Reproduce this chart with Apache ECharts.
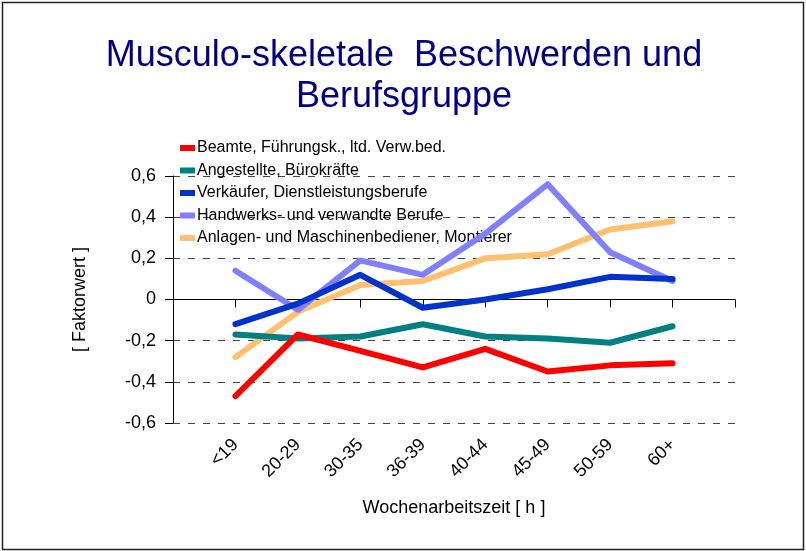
<!DOCTYPE html>
<html>
<head>
<meta charset="utf-8">
<script src="https://cdn.jsdelivr.net/npm/echarts@6/dist/echarts.min.js"></script>
<style>
  html, body { margin: 0; padding: 0; background: #fff; }
  #chart { width: 806px; height: 551px; }
</style>
</head>
<body>
<div id="chart"></div>
<script>
// Wochenarbeitszeit-Klassen
var ageGroups = ['<19', '20-29', '30-35', '36-39', '40-44', '45-49', '50-59', '60+'];

var seriesNames = [
  'Beamte, Führungsk., ltd. Verw.bed.',
  'Angestellte, Bürokräfte',
  'Verkäufer, Dienstleistungsberufe',
  'Handwerks- und verwandte Berufe',
  'Anlagen- und Maschinenbediener, Montierer'
];
var seriesColors = ['#ff0000', '#008080', '#0033cc', '#8080ff', '#ffc170'];

var beamte      = [-0.47, -0.17, -0.25, -0.33, -0.24, -0.35, -0.32, -0.31];
var angestellte = [-0.17, -0.19, -0.18, -0.12, -0.18, -0.19, -0.21, -0.13];
var verkaeufer  = [-0.12, -0.02,  0.12, -0.04,  0.00,  0.05,  0.11,  0.10];
var handwerk    = [ 0.14, -0.05,  0.19,  0.12,  0.32,  0.56,  0.23,  0.09];
var anlagen     = [-0.28, -0.06,  0.07,  0.09,  0.20,  0.22,  0.34,  0.38];

var yTicks = [-0.6, -0.4, -0.2, 0, 0.2, 0.4, 0.6];

var chart = echarts.init(document.getElementById('chart'));
var font = 'Liberation Sans, Arial, sans-serif';

// leere Kategorie am Anfang und Ende, wie im Original
var xData = [''].concat(ageGroups, ['']);

function pad(arr) {
  return [null].concat(arr, [null]);
}

var allData = [beamte, angestellte, verkaeufer, handwerk, anlagen];
var series = [];
for (var i = 0; i < allData.length; i++) {
  series.push({
    name: seriesNames[i],
    type: 'line',
    data: pad(allData[i]),
    symbol: 'none',
    z: 10 - i,
    lineStyle: { width: 6, color: seriesColors[i], cap: 'round', join: 'round' },
    itemStyle: { color: seriesColors[i] }
  });
}
// Nulllinie durchgezogen
series[0].markLine = {
  silent: true,
  symbol: 'none',
  label: { show: false },
  lineStyle: { color: '#000', width: 1, type: 'solid' },
  z: 1,
  data: [{ yAxis: 0 }]
};

var option = {
  animation: false,
  backgroundColor: '#fff',
  textStyle: { fontFamily: font },
  graphic: [{
    type: 'rect',
    shape: { x: 2.5, y: 2.5, width: 801, height: 547 },
    style: { fill: 'none', stroke: '#222', lineWidth: 1.5 },
    silent: true
  }, {
    type: 'text',
    x: 404,
    y: 36,
    style: {
      text: 'Musculo-skeletale  Beschwerden und\nBerufsgruppe',
      font: '36px ' + font,
      fill: '#000080',
      align: 'center',
      verticalAlign: 'top',
      lineHeight: 41
    }
  }],
  legend: {
    orient: 'vertical',
    left: 180,
    top: 140,
    padding: 0,
    icon: 'rect',
    itemWidth: 15,
    itemHeight: 6,
    itemGap: 6.5,
    selectedMode: false,
    textStyle: { fontFamily: font, fontSize: 16, color: '#000', lineHeight: 16, padding: [0, 0, 0, -3] },
    data: seriesNames
  },
  grid: { left: 173, right: 71, top: 176, bottom: 128, containLabel: false },
  xAxis: {
    type: 'category',
    data: xData,
    boundaryGap: false,
    name: 'Wochenarbeitszeit [ h ]',
    nameLocation: 'middle',
    nameGap: 76,
    nameTextStyle: { fontFamily: font, fontSize: 18, color: '#000' },
    axisLine: { lineStyle: { color: '#000', width: 1 } },
    axisTick: { show: true, length: 8, interval: 0, lineStyle: { color: '#000' } },
    axisLabel: { interval: 0, rotate: 45, margin: 19, fontSize: 18, color: '#000', fontFamily: font },
    splitLine: { show: false }
  },
  yAxis: {
    type: 'value',
    min: yTicks[0],
    max: yTicks[yTicks.length - 1],
    interval: 0.2,
    name: '[ Faktorwert ]',
    nameLocation: 'middle',
    nameGap: 84,
    nameTextStyle: { fontFamily: font, fontSize: 18, color: '#000' },
    axisLine: { show: true, lineStyle: { color: '#000', width: 1 } },
    axisTick: { show: true, length: 8, inside: false, lineStyle: { color: '#000' } },
    axisLabel: {
      margin: 17,
      fontSize: 18,
      color: '#000',
      fontFamily: font,
      formatter: function (v) {
        var r = Math.round(v * 10) / 10;
        return r === 0 ? '0' : r.toFixed(1).replace('.', ',');
      }
    },
    splitLine: { show: true, lineStyle: { color: '#444', width: 1, type: [7, 8] } }
  },
  series: series
};

chart.setOption(option);
</script>
</body>
</html>
